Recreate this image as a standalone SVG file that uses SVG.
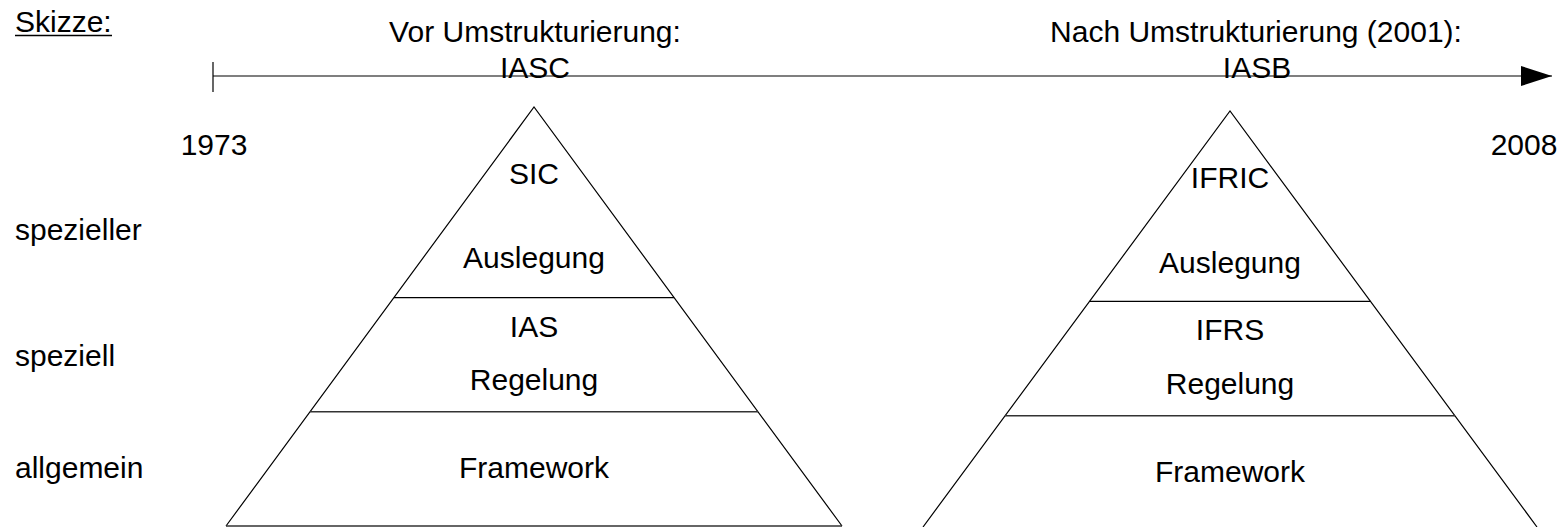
<svg xmlns="http://www.w3.org/2000/svg" width="1564" height="527" viewBox="0 0 1564 527">
<style>
text{font-family:"Liberation Sans",Arial,sans-serif;font-size:30px;fill:#000}
.c{text-anchor:middle}
.ln{stroke:#000;stroke-width:1.2;fill:none}
.dv{stroke:#333;stroke-width:1.6;fill:none}
</style>
<defs>
<marker id="ah" markerUnits="userSpaceOnUse" markerWidth="32" markerHeight="22" refX="31" refY="10" orient="auto">
<path d="M0,0 L31,10 L0,20 Z" fill="#000"/>
</marker>
</defs>
<rect width="1564" height="527" fill="#fff"/>
<g id="header">
<text x="15" y="32">Skizze:</text>
<line x1="15" y1="35.5" x2="112" y2="35.5" stroke="#000" stroke-width="1.5"/>
<text class="c" x="535" y="42">Vor Umstrukturierung:</text>
<text class="c" x="535" y="78">IASC</text>
<text class="c" x="1256" y="42">Nach Umstrukturierung (2001):</text>
<text class="c" x="1257" y="78">IASB</text>
<text class="c" x="214" y="155">1973</text>
<text class="c" x="1524" y="155">2008</text>
</g>
<g id="connectors">
<line class="ln" x1="213" y1="62" x2="213" y2="92"/>
<line class="ln" x1="213" y1="76" x2="1552" y2="76" marker-end="url(#ah)"/>
</g>
<g id="levels">
<text x="15" y="240">spezieller</text>
<text x="15" y="366">speziell</text>
<text x="15" y="478">allgemein</text>
</g>
<g id="pyramid-left">
<path class="ln" d="M226,526 L534,107 L842,526"/>
<line class="dv" x1="226" y1="526" x2="842" y2="526"/>
<line class="ln" x1="394" y1="297.7" x2="674" y2="297.7"/>
<line class="dv" x1="310" y1="411.7" x2="758" y2="411.7"/>
<text class="c" x="534" y="184">SIC</text>
<text class="c" x="534" y="268">Auslegung</text>
<text class="c" x="534" y="337">IAS</text>
<text class="c" x="534" y="390">Regelung</text>
<text class="c" x="534" y="478">Framework</text>
</g>
<g id="pyramid-right">
<path class="ln" d="M923,527 L1230,111 L1537,527"/>
<line class="ln" x1="1089.5" y1="301.3" x2="1370.5" y2="301.3"/>
<line class="dv" x1="1005" y1="415.7" x2="1455" y2="415.7"/>
<text class="c" x="1230" y="188">IFRIC</text>
<text class="c" x="1230" y="273">Auslegung</text>
<text class="c" x="1230" y="340">IFRS</text>
<text class="c" x="1230" y="394">Regelung</text>
<text class="c" x="1230" y="482">Framework</text>
</g>
</svg>
